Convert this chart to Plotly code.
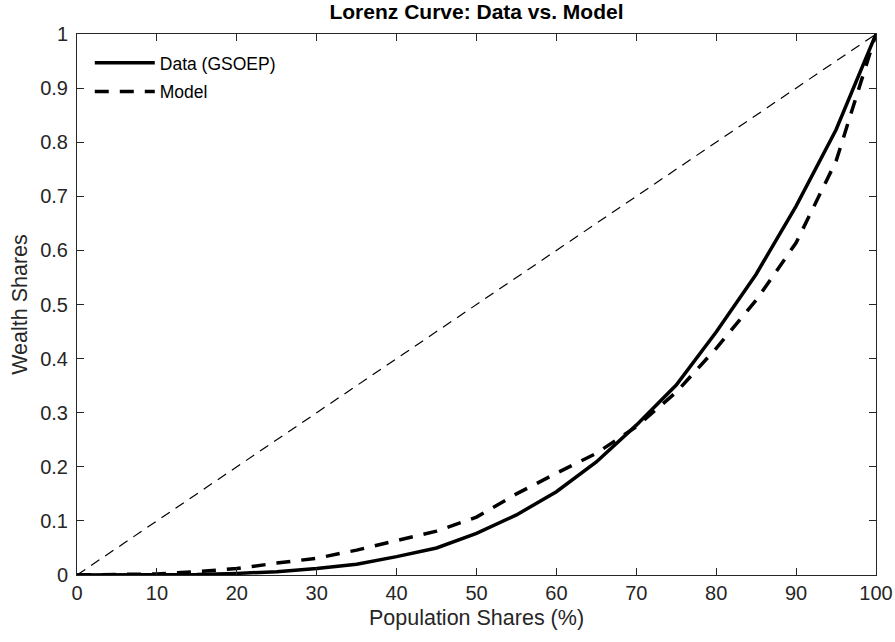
import plotly.graph_objects as go

pop_shares = [0, 5, 10, 15, 20, 25, 30, 35, 40, 45, 50, 55, 60, 65, 70, 75, 80, 85, 90, 95, 100]
data_gsoep = [0, 0, 0, 0.001, 0.003, 0.006, 0.012, 0.02, 0.034, 0.05, 0.077, 0.111, 0.154,
              0.209, 0.277, 0.351, 0.449, 0.556, 0.682, 0.823, 1.0]
model = [0, 0.001, 0.002, 0.006, 0.012, 0.022, 0.031, 0.046, 0.063, 0.081, 0.107, 0.15, 0.188,
         0.225, 0.274, 0.338, 0.419, 0.508, 0.614, 0.765, 1.0]
equality_x = [0, 100]
equality_y = [0, 1]

x_ticks = [0, 10, 20, 30, 40, 50, 60, 70, 80, 90, 100]
y_ticks = [0, 0.1, 0.2, 0.3, 0.4, 0.5, 0.6, 0.7, 0.8, 0.9, 1]
y_tick_text = ["0", "0.1", "0.2", "0.3", "0.4", "0.5", "0.6", "0.7", "0.8", "0.9", "1"]

FONT = "Liberation Sans, Arial, sans-serif"
AX = "#262626"

fig = go.Figure()
fig.add_trace(go.Scatter(x=pop_shares, y=data_gsoep, mode="lines", name="Data (GSOEP)",
                         legendgroup="a",
                         line=dict(color="black", width=3.5)))
fig.add_trace(go.Scatter(x=pop_shares, y=model, mode="lines", name="Model",
                         legendgroup="b",
                         line=dict(color="black", width=3.5, dash="14px,11px")))
fig.add_trace(go.Scatter(x=equality_x, y=equality_y, mode="lines", showlegend=False,
                         line=dict(color="black", width=1.2, dash="10px,7px")))

axis_common = dict(showline=True, linecolor=AX, linewidth=1, mirror="ticks",
                   ticks="inside", ticklen=7, tickcolor=AX, tickwidth=1,
                   showgrid=False, zeroline=False, automargin=False,
                   tickfont=dict(family=FONT, size=20, color=AX))

fig.update_layout(
    width=895, height=642,
    margin=dict(l=77, r=19, t=34, b=67),
    paper_bgcolor="white", plot_bgcolor="white",
    title=dict(text="<b>Lorenz Curve: Data vs. Model</b>", x=0.5, xref="paper",
               xanchor="center", y=1 - 12 / 642, yanchor="middle",
               font=dict(family=FONT, size=21, color="black")),
    xaxis=dict(range=[0, 100], tickvals=x_ticks,
               title=dict(text="Population Shares (%)", standoff=6,
                          font=dict(family=FONT, size=21.5, color=AX)),
               **axis_common),
    yaxis=dict(range=[0, 1], tickvals=y_ticks, ticktext=y_tick_text,
               ticklabelstandoff=4,
               title=dict(text="Wealth Shares", standoff=6,
                          font=dict(family=FONT, size=21.5, color=AX)),
               **axis_common),
    legend=dict(x=0.016, y=0.98, xanchor="left", yanchor="top",
                bgcolor="rgba(255,255,255,0)", borderwidth=0,
                font=dict(family=FONT, size=17.5, color="black"),
                itemwidth=60, tracegroupgap=3),
    showlegend=True,
)

fig.write_html("out.html")
